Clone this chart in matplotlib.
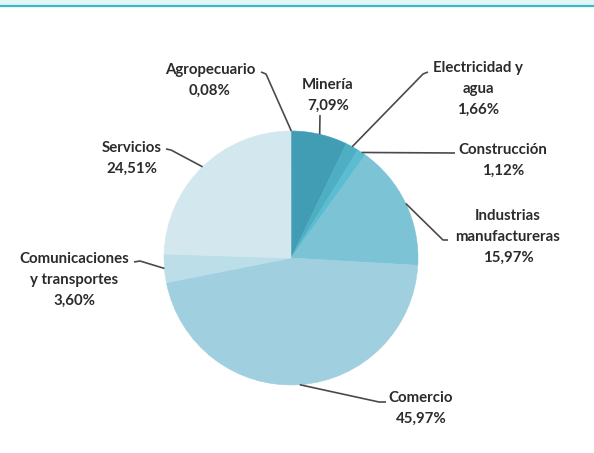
import matplotlib.pyplot as plt
import numpy as np

# sector shares (%), clockwise from 12 o'clock
sectors = ["Agropecuario", "Minería", "Electricidad y\nagua", "Construcción",
           "Industrias\nmanufactureras", "Comercio", "Comunicaciones\ny transportes",
           "Servicios"]
shares = [0.08, 7.09, 1.66, 1.12, 15.97, 45.97, 3.60, 24.51]
colors = ["#2f8ea4", "#409db3", "#4eaec4", "#5bbdd1", "#7bc3d5", "#a0cfdf",
          "#bcdee9", "#d3e7ef"]

W, H = 594, 453

def Y(y):
    # pixel row (from top) -> data y
    return H - y

# label layout in pixels: text centre x, top y, and leader bend points
label_pos = [(210, 63), (328, 78), (478, 61), (503, 143),
             (508, 209), (421, 391), (74, 252), (132, 141)]
leader_pts = [[(266, 74), (261, 72)],
              [(320, 115)],
              [(423, 74), (428, 72)],
              [(455, 153)],
              [(443, 240), (448, 240)],
              [(379, 402), (386, 402)],
              [(140, 261), (134, 262)],
              [(171, 150), (166, 149)]]

fig = plt.figure(figsize=(W / 100, H / 100), dpi=100)
ax = fig.add_axes([0, 0, 1, 1])

cx, cy, r = 291, 258, 127
wedges, _ = ax.pie(shares, colors=colors, startangle=90, counterclock=False,
                   center=(cx, Y(cy)), radius=r)
for w in wedges:
    w.set_edgecolor(w.get_facecolor())
    w.set_linewidth(0.4)

for w, name, val, (tx, ty), pts in zip(wedges, sectors, shares, label_pos, leader_pts):
    ang = np.deg2rad((w.theta1 + w.theta2) / 2)
    x0 = cx + r * np.cos(ang)
    y0 = Y(cy) + r * np.sin(ang)
    xs = [x0] + [p[0] for p in pts]
    ys = [y0] + [Y(p[1]) for p in pts]
    ax.plot(xs, ys, color="#4a4a4a", lw=1.2, solid_capstyle="butt")
    txt = name + "\n" + f"{val:.2f}".replace(".", ",") + "%"
    ax.text(tx, Y(ty), txt, ha="center", va="top", fontsize=10.8,
            fontfamily="Lato", fontweight="bold", color="#2b2b2b",
            linespacing=1.62)

# header strip
ax.axhspan(Y(5), H, color="#e4f5f7", lw=0)
ax.axhline(Y(6), color="#3db7ca", lw=1.6)

ax.set_xlim(0, W)
ax.set_ylim(0, H)
ax.axis("off")

fig.savefig("out.png", dpi=100)
